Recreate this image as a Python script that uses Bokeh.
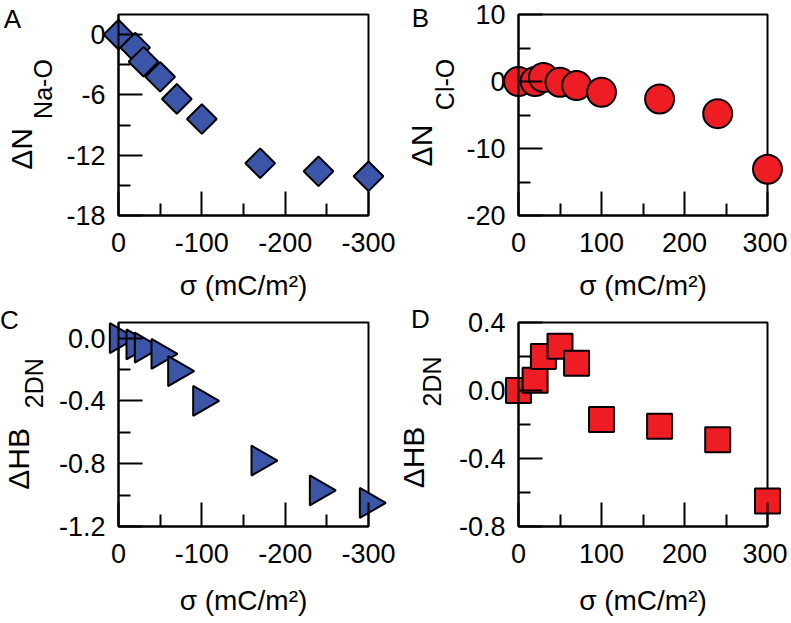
import math
from bokeh.plotting import figure
from bokeh.models import Range1d, FixedTicker
from bokeh.core.properties import value
from bokeh.layouts import column, row
from bokeh.embed import file_html
from bokeh.resources import INLINE

# ---- data ----
sigma_neg = [0, -20, -30, -50, -70, -100, -170, -240, -300]
sigma_pos = [0, 20, 30, 50, 70, 100, 170, 240, 300]
dN_NaO = [0, -1.3, -2.7, -4.2, -6.4, -8.4, -12.8, -13.6, -14.1]
dN_ClO = [0, 0, 0.6, -0.1, -0.6, -1.6, -2.6, -4.8, -13.1]
dHB_Na = [0, -0.04, -0.06, -0.10, -0.21, -0.40, -0.78, -0.97, -1.05]
dHB_Cl = [0, 0.06, 0.20, 0.26, 0.16, -0.17, -0.21, -0.29, -0.65]

xt_neg = [0, -100, -200, -300]
xt_neg_minor = [-50, -150, -250]
xt_neg_labels = ["0", "-100", "-200", "-300"]
xt_pos = [0, 100, 200, 300]
xt_pos_minor = [50, 150, 250]
xt_pos_labels = ["0", "100", "200", "300"]

yA_ticks = [0, -6, -12, -18]
yA_minor = [-3, -9, -15]
yA_labels = ["0", "-6", "-12", "-18"]
yB_ticks = [10, 0, -10, -20]
yB_minor = [5, -5, -15]
yB_labels = ["10", "0", "-10", "-20"]
yC_ticks = [0, -0.4, -0.8, -1.2]
yC_minor = [-0.2, -0.6, -1.0]
yC_labels = ["0.0", "-0.4", "-0.8", "-1.2"]
yD_ticks = [0.4, 0, -0.4, -0.8]
yD_minor = [0.2, -0.2, -0.6]
yD_labels = ["0.4", "0.0", "-0.4", "-0.8"]

BLUE = "#3B55A8"
RED = "#EE1D23"
FONT = "Liberation Sans"
XLABEL = "σ (mC/m²)"


def px2data(rng, length, rel):
    return rng[0] + rel * (rng[1] - rng[0]) / length


def panel(x, y, xr, yr, xt, xtm, xtl, yt, ytm, ytl, marker, size, angle, color,
          width, height, bl, br, bt, bb, letter, main, sub, pos_letter, pos_main,
          pos_sub, xlab_standoff):
    fw = width - bl - br
    fh = height - bt - bb
    p = figure(width=width, height=height, x_range=Range1d(*xr), y_range=Range1d(*yr),
               output_backend="svg", toolbar_location=None, tools="",
               min_border_left=bl, min_border_right=br, min_border_top=bt,
               min_border_bottom=bb)
    p.grid.visible = False
    p.outline_line_color = "black"
    p.outline_line_width = 2
    p.outline_line_alpha = 1
    p.background_fill_color = "white"
    p.border_fill_color = "white"

    r = p.scatter(x, y, marker=marker, size=size, angle=angle, fill_color=color,
                  line_color="black", line_width=2)
    r.level = "guide"

    xa = p.xaxis[0]
    xa.ticker = FixedTicker(ticks=xt, minor_ticks=xtm)
    xa.major_label_overrides = {v: s for v, s in zip(xt, xtl)}
    ya = p.yaxis[0]
    ya.ticker = FixedTicker(ticks=yt, minor_ticks=ytm)
    ya.major_label_overrides = {v: s for v, s in zip(yt, ytl)}
    for ax in (xa, ya):
        ax.axis_line_width = 2
        ax.axis_line_color = "black"
        ax.major_tick_line_width = 2
        ax.minor_tick_line_width = 2
        ax.major_tick_line_color = "black"
        ax.minor_tick_line_color = "black"
        ax.major_tick_in = 24
        ax.major_tick_out = 0
        ax.minor_tick_in = 12
        ax.minor_tick_out = 0
        ax.major_label_text_font = FONT
        ax.major_label_text_font_size = "27px"
        ax.major_label_text_color = "black"
    xa.major_label_standoff = 17
    ya.major_label_standoff = 13
    xa.axis_label = XLABEL
    xa.axis_label_text_font = FONT
    xa.axis_label_text_font_size = "28px"
    xa.axis_label_text_font_style = "normal"
    xa.axis_label_text_color = "black"
    xa.axis_label_standoff = xlab_standoff

    def lab(pos, text, fs, ang):
        t = p.text(x=[px2data(xr, fw, pos[0])], y=[px2data(yr, fh, pos[1])],
                   text=[text], angle=ang, text_font=value(FONT), text_font_size=fs,
                   text_align="center", text_baseline="middle", text_color="black")
        t.level = "guide"

    lab(pos_letter, letter, "26px", 0)
    lab(pos_main, main, "30px", math.pi / 2)
    lab(pos_sub, sub, "25px", math.pi / 2)
    return p


pA = panel(sigma_neg, dN_NaO, (0, -300), (-18, 2), xt_neg, xt_neg_minor, xt_neg_labels,
           yA_ticks, yA_minor, yA_labels, "square", 21, math.pi / 4, BLUE,
           398, 303, 118, 30, 13, 85, "A", "ΔN", "Na-O",
           (-106, 200), (-97, 68), (-76, 129), 15)
pB = panel(sigma_pos, dN_ClO, (0, 300), (-20, 10), xt_pos, xt_pos_minor, xt_pos_labels,
           yB_ticks, yB_minor, yB_labels, "circle", 29, 0, RED,
           389, 303, 120, 20, 14, 85, "B", "ΔN", "Cl-O",
           (-98, 200), (-97, 71), (-74, 133), 15)
pC = panel(sigma_neg, dHB_Na, (0, -300), (-1.2, 0.1), xt_neg, xt_neg_minor, xt_neg_labels,
           yC_ticks, yC_minor, yC_labels, "triangle", 30, -math.pi / 2, BLUE,
           398, 315, 118, 30, 18, 92, "C", "ΔHB", "2DN",
           (-109, 208), (-100, 68), (-85, 144), 19)
pD = panel(sigma_pos, dHB_Cl, (0, 300), (-0.8, 0.4), xt_pos, xt_pos_minor, xt_pos_labels,
           yD_ticks, yD_minor, yD_labels, "square", 25, 0, RED,
           389, 315, 120, 20, 19, 92, "D", "ΔHB", "2DN",
           (-98, 208), (-105, 69), (-87, 145), 19)

layout = column(row(pA, pB), row(pC, pD))
open("out.html", "w").write(file_html(layout, INLINE))
